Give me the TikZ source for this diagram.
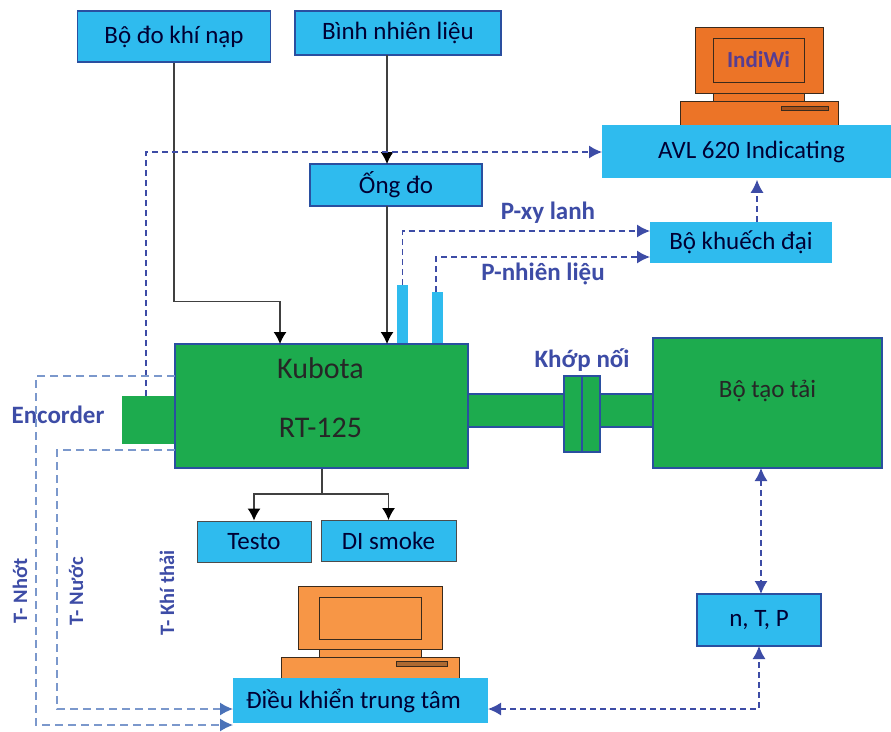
\documentclass[tikz,border=0pt]{standalone}
\usepackage{fontspec}
\setmainfont{Carlito}
\usetikzlibrary{arrows.meta,positioning,calc}
\definecolor{boxblue}{HTML}{2FBBEE}
\definecolor{enginegreen}{HTML}{1DAB4E}
\definecolor{edgeblue}{HTML}{2A4FA0}
\definecolor{sigblue}{HTML}{3D4CA6}
\definecolor{tempblue}{HTML}{7B98CC}
\definecolor{temphead}{HTML}{4A72B8}
\definecolor{pcdark}{HTML}{EC7427}
\definecolor{pclight}{HTML}{F79646}
\definecolor{pcedge}{HTML}{3A2A1C}
\def\txt{\fontsize{25}{30}\selectfont}
\def\bigtxt{\fontsize{30}{36}\selectfont}
\def\lbl{\fontsize{25}{30}\selectfont\bfseries}
\def\sidelbl{\fontsize{20.5}{25}\selectfont\bfseries}

\begin{document}
\begin{tikzpicture}[
    x=1pt, y=-1pt,
    >=Latex,
    box/.style={fill=boxblue, inner sep=0pt, font=\txt, text=black!80!blue},
    sized/.style 2 args={minimum width=#1pt, minimum height=#2pt},
    machine/.style={draw=edgeblue, line width=1.3pt, fill=enginegreen, inner sep=0pt, font=\txt, text=black!85},
    part/.style={draw=pcedge, line width=1pt, inner sep=0pt},
    siglabel/.style={font=\lbl, text=sigblue},
    sidelabel/.style={font=\sidelbl, text=sigblue, rotate=90},
    pipe/.style={draw=black!75, line width=1.2pt, -{Latex[length=12pt,width=13pt,color=black]}},
    dsh/.style={draw=sigblue, line width=1.3pt, dash pattern=on 6pt off 4pt, -{Latex[length=13pt,width=13pt]}},
    dshboth/.style={dsh, {Latex[length=13pt,width=13pt]}-{Latex[length=13pt,width=13pt]}},
    tmp/.style={draw=tempblue, line width=1.3pt, dash pattern=on 8pt off 5pt, -{Latex[length=13pt,width=13pt,color=temphead]}}
]
\useasboundingbox (0,0) rectangle (891,731);

% Computers
\node[part, fill=pcdark, sized={128}{66}] (mon1) at (759,60) {};
\node[part, fill=pcdark, sized={91}{44}, font=\fontsize{23}{28}\selectfont\bfseries, text=sigblue!80!purple] (scr1) at (758.5,60) {IndiWi};
\node[part, fill=pcdark, sized={91}{8}] (neck1) at (758.5,97) {};
\node[part, fill=pcdark, sized={158}{24}] (base1) at (759,113) {};
\node[part, fill=pcdark!70!black, sized={47}{4}] (slot1) at (804.5,108) {};

\node[part, fill=pclight, sized={144}{63}] (mon2) at (370,617.5) {};
\node[part, fill=pclight, sized={102}{42}] (scr2) at (370,618) {};
\node[part, fill=pclight, sized={102}{8}] (neck2) at (370,653) {};
\node[part, fill=pclight, sized={178}{21}] (base2) at (370,667.5) {};
\node[part, fill=pclight!70!black, sized={51}{5}] (slot2) at (421.5,663.5) {};

% Nodes
\node[box, draw=edgeblue, line width=1.2pt, sized={193}{51}] (air) at (174,36.5) {Bộ đo khí nạp};
\node[box, draw=edgeblue, line width=1.2pt, sized={206}{44}] (fuel) at (398,33) {Bình nhiên liệu};
\node[box, draw=edgeblue, line width=1.2pt, sized={172}{42}] (tube) at (396,185) {Ống đo};
\node[box, sized={289}{53}] (avl) at (746.5,151.5) {\kern10pt AVL 620 Indicating};
\node[box, sized={182}{41}] (amp) at (741,242.5) {Bộ khuếch đại};
\node[box, draw=edgeblue, line width=1.2pt, sized={124}{52}] (ntp) at (759,620) {n, T, P};
\node[box, draw=black!70, line width=1pt, sized={114}{41}] (testo) at (254,541.5) {Testo};
\node[box, draw=black!70, line width=1pt, sized={135}{41}] (smoke) at (388.5,541) {DI smoke};
\node[box, sized={255}{45}] (ctrl) at (360.5,700.5) {Điều khiển trung tâm\kern14pt};

\node[box, sized={11}{59}] (pcyl) at (402.5,314.5) {};
\node[box, sized={11}{52}] (pfuel) at (437.5,318) {};

\node[machine, draw=none, sized={53}{48}] (enc) at (148.5,420) {};
\node[machine, sized={96}{33}] (shaft1) at (516,410.5) {};
\node[machine, sized={54}{33}] (shaft2) at (627,410.5) {};
\node[machine, sized={18}{76}] (cpl1) at (573,414) {};
\node[machine, sized={18}{76}] (cpl2) at (591,414) {};
\node[machine, sized={293}{124}] (engine) at (321.5,406) {};
\node[font=\bigtxt, text=black!85, align=center] (enginetext) at (320.5,398) {Kubota\\[23pt]RT-125};
\node[machine, sized={229}{130}] (load) at (767.5,403) {};
\node[font=\txt, text=black!85] (loadtext) at (767.5,391) {Bộ tạo tải};

% Labels
\node[siglabel] (enclbl) at (58,415) {Encorder};
\node[siglabel] (cpllbl) at (582,360) {Khớp nối};
\node[siglabel] (cyllbl) at (548,213) {P-xy lanh};
\node[siglabel] (fuellbl) at (543,274) {P-nhiên liệu};
\node[sidelabel] (oillbl) at (20,591) {T- Nhớt};
\node[sidelabel] (waterlbl) at (76,591) {T- Nước};
\node[sidelabel] (exhlbl) at (167,593) {T- Khí thải};

% Corners
\coordinate (airin) at (280,344);
\coordinate (fork) at (322,494);
\coordinate (oilout) at (175,376);
\coordinate (waterout) at (175,450);
\coordinate (oilin) at (233,725);
\coordinate (waterin) at (233,709);
\coordinate (oilbend) at (36,725);
\coordinate (waterbend) at (57,709);
\coordinate (ampcyl) at (650,231);
\coordinate (ampfuel) at (650,257);
\coordinate (avlin) at (602,152);
\coordinate (ntptop) at (761,594);
\coordinate (ntpbot) at (759,646);
\coordinate (loadbot) at (761,468);
\coordinate (ctrlout) at (488,709);
\coordinate (encup) at (146,396);
\coordinate (fuelup) at (436,292);
\coordinate (tubein) at (387,164);
\coordinate (tubeout) at (387,206);
\coordinate (enginein) at (387,344);
\coordinate (fuelout) at (387,55);

% Connections
\draw[pipe] (air.south) -- ++(0,239) -| (airin);
\draw[pipe] (fuelout) -- (tubein);
\draw[pipe] (tubeout) -- (enginein);
\draw[draw=black!75, line width=1.2pt] (engine.south) ++(0.5,0) -- (fork);
\draw[pipe] (fork) -| (testo.north);
\draw[pipe] (fork) -| (smoke.north);

\draw[dsh] (encup) |- (avlin);
\draw[dsh] (pcyl.north) |- (ampcyl);
\draw[dsh] (fuelup) |- (ampfuel);
\draw[dsh] (amp.north) ++(16,0) -- ++(0,-42);
\draw[dshboth] (loadbot) -- (ntptop);
\draw[dshboth] (ctrlout) -| (ntpbot);

\draw[tmp] (oilout) -| (oilbend) -- (oilin);
\draw[tmp] (waterout) -| (waterbend) -- (waterin);
\end{tikzpicture}
\end{document}
